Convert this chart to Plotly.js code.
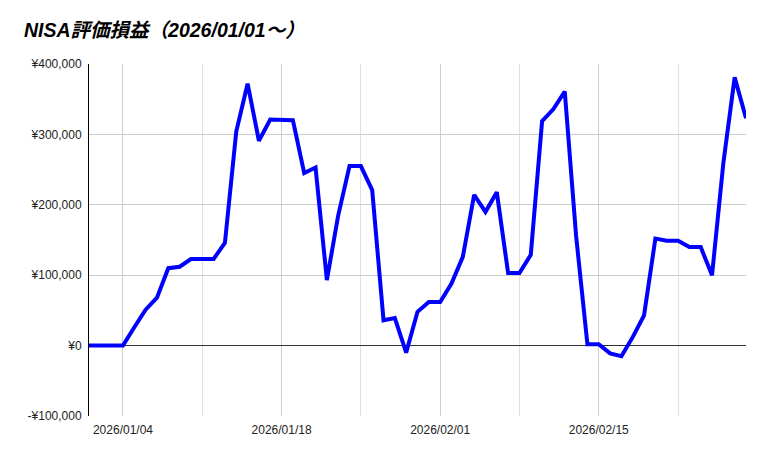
<!DOCTYPE html>
<html>
<head>
<meta charset="utf-8">
<script src="https://cdn.plot.ly/plotly-3.0.1.min.js"></script>
<style>
  html, body { margin: 0; padding: 0; background: #fff; }
  #chart { width: 769px; height: 457px; }
</style>
</head>
<body>
<div id="chart"></div>
<script>
// 日付（毎日）
var dates = [
  '2026-01-01', '2026-01-02', '2026-01-03', '2026-01-04', '2026-01-05', '2026-01-06', '2026-01-07',
  '2026-01-08', '2026-01-09', '2026-01-10', '2026-01-11', '2026-01-12', '2026-01-13', '2026-01-14',
  '2026-01-15', '2026-01-16', '2026-01-17', '2026-01-18', '2026-01-19', '2026-01-20', '2026-01-21',
  '2026-01-22', '2026-01-23', '2026-01-24', '2026-01-25', '2026-01-26', '2026-01-27', '2026-01-28',
  '2026-01-29', '2026-01-30', '2026-01-31', '2026-02-01', '2026-02-02', '2026-02-03', '2026-02-04',
  '2026-02-05', '2026-02-06', '2026-02-07', '2026-02-08', '2026-02-09', '2026-02-10', '2026-02-11',
  '2026-02-12', '2026-02-13', '2026-02-14', '2026-02-15', '2026-02-16', '2026-02-17', '2026-02-18',
  '2026-02-19', '2026-02-20', '2026-02-21', '2026-02-22', '2026-02-23', '2026-02-24', '2026-02-25',
  '2026-02-26', '2026-02-27', '2026-02-28'
];

// 評価損益（円）
var profit = [
  0, 0, 0, 0, 26000, 51000, 68000,
  110000, 112000, 123000, 123000, 123000, 146000, 304000,
  372000, 291000, 321000, 321000, 320000, 245000, 253000,
  93000, 185000, 255000, 255000, 221000, 36000, 39000,
  -10000, 48000, 62000, 62000, 88000, 126000, 214000,
  190000, 218000, 103000, 103000, 129000, 319000, 336000,
  361000, 156000, 2000, 2000, -11000, -15000, 12000,
  43000, 152000, 149000, 149000, 140000, 140000, 100000,
  259000, 381000, 323000
];

var xTickVals = ['2026-01-04', '2026-01-18', '2026-02-01', '2026-02-15'];
var xTickLabels = ['2026/01/04', '2026/01/18', '2026/02/01', '2026/02/15'];

var yTickVals = [-100000, 0, 100000, 200000, 300000, 400000];
var yTickLabels = ['-¥100,000', '¥0', '¥100,000', '¥200,000', '¥300,000', '¥400,000'];

var font = 'Liberation Sans, Arial, Noto Sans CJK JP, sans-serif';

var data = [{
    type: 'scatter',
    mode: 'lines',
    x: dates,
    y: profit,
    line: {
        color: '#0000ff',
        width: 4
    },
    hoverinfo: 'x+y'
}];

Plotly.newPlot('chart', data, {
    width: 769,
    height: 457,
    font: {
        family: font,
        size: 12,
        color: '#222'
    },
    title: {
        text: '<b><i>NISA評価損益（2026/01/01～）</i></b>',
        font: { family: font, size: 19.5, color: '#000' },
        x: 0,
        xref: 'paper',
        xanchor: 'left',
        y: 1,
        yref: 'container',
        yanchor: 'top',
        pad: { t: 23, l: -65 }
    },
    margin: { l: 89, r: 23, t: 64, b: 41 },
    paper_bgcolor: '#fff',
    plot_bgcolor: '#fff',
    showlegend: false,
    xaxis: {
        type: 'date',
        range: ['2026-01-01', '2026-02-28'],
        tickvals: xTickVals,
        ticktext: xTickLabels,
        showgrid: true,
        gridcolor: '#cccccc',
        gridwidth: 1,
        zeroline: false,
        showline: false,
        ticks: '',
        ticklabelstandoff: 5,
        minor: {
            tick0: '2026-01-04',
            dtick: 7 * 86400000,
            showgrid: true,
            gridcolor: '#e0e0e0',
            gridwidth: 1
        },
        tickfont: { size: 12, color: '#222' }
    },
    yaxis: {
        range: [-100000, 400000],
        tickvals: yTickVals,
        ticktext: yTickLabels,
        showgrid: true,
        gridcolor: '#cccccc',
        gridwidth: 1,
        zeroline: true,
        zerolinecolor: '#333',
        zerolinewidth: 1,
        showline: true,
        linecolor: '#000',
        linewidth: 1,
        ticks: '',
        ticklabelstandoff: 4,
        tickfont: { size: 12, color: '#222' }
    }
}, {
    displayModeBar: false
});
</script>
</body>
</html>
